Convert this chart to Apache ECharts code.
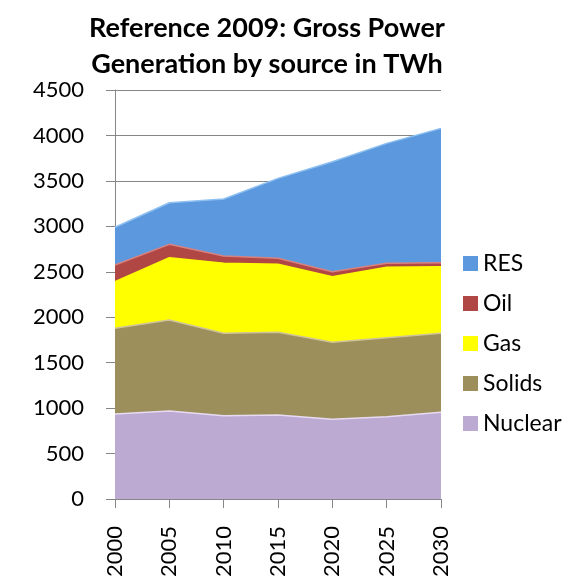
<!DOCTYPE html>
<html>
<head>
<meta charset="utf-8">
<script src="https://cdn.jsdelivr.net/npm/echarts@6/dist/echarts.min.js"></script>
<style>
  html, body { margin: 0; padding: 0; background: #fff; }
  #chart { width: 586px; height: 581px; }
</style>
</head>
<body>
<div id="chart"></div>
<script>
// years on the x axis
const years = ['2000', '2005', '2010', '2015', '2020', '2025', '2030']

// gross generation by source, TWh (stacked bottom to top)
const nuclear = [935, 968, 916, 924, 877, 905, 954]
const solids = [943, 1001, 907, 910, 847, 870, 869]
const gas = [513, 686, 770, 748, 722, 774, 732]
const oil = [183, 147, 80, 66, 54, 44, 45]
const res = [416, 458, 627, 880, 1211, 1320, 1478]

const fontFamily = 'Lato, "Open Sans", sans-serif'

const makeSeries = (name, data, fill, edge) => ({
  name,
  type: 'line',
  stack: 'total',
  data,
  symbol: 'none',
  lineStyle: { width: 1.5, color: edge },
  itemStyle: { color: fill },
  areaStyle: { color: fill, opacity: 1 }
})

const chart = echarts.init(document.getElementById('chart'), null, { renderer: 'canvas' })

chart.setOption({
  backgroundColor: '#fff',
  animation: false,
  title: {
    text: 'Reference 2009: Gross Power\nGeneration by source in TWh',
    left: 262,
    top: 5,
    textAlign: 'center',
    textStyle: {
      fontFamily,
      fontSize: 27,
      fontWeight: 'bold',
      color: '#000',
      lineHeight: 36
    }
  },
  legend: {
    orient: 'vertical',
    left: 458,
    top: 247,
    itemWidth: 15,
    itemHeight: 15,
    itemGap: 17,
    icon: 'rect',
    data: ['RES', 'Oil', 'Gas', 'Solids', 'Nuclear'],
    textStyle: { fontFamily, fontSize: 23, color: '#000', padding: [0, 0, 0, 0] }
  },
  grid: {
    left: 115,
    right: 145,
    top: 90,
    bottom: 82,
    containLabel: false
  },
  xAxis: {
    type: 'category',
    boundaryGap: false,
    data: years,
    axisLine: { lineStyle: { color: '#868686', width: 1 } },
    axisTick: { show: true, alignWithLabel: true, length: 9, lineStyle: { color: '#868686' } },
    axisLabel: {
      rotate: 90,
      margin: 27,
      fontFamily,
      fontSize: 22,
      color: '#000'
    },
    splitLine: { show: false }
  },
  yAxis: {
    type: 'value',
    min: 0,
    max: 4500,
    interval: 500,
    axisLine: { show: true, lineStyle: { color: '#868686', width: 1 } },
    axisTick: { show: true, length: 9, inside: false, lineStyle: { color: '#868686' } },
    axisLabel: {
      margin: 31,
      fontFamily,
      fontSize: 22,
      color: '#000',
      formatter: (v) => String(v)
    },
    splitLine: { show: true, lineStyle: { color: '#868686', width: 1 } }
  },
  series: [
    makeSeries('Nuclear', nuclear, '#bcaad3', '#e6dbf2'),
    makeSeries('Solids', solids, '#9d8f5b', '#cfc39a'),
    makeSeries('Gas', gas, '#ffff00', '#ffff00'),
    makeSeries('Oil', oil, '#b14744', '#d8827f'),
    makeSeries('RES', res, '#5b98dd', '#8ec0f2')
  ]
})
</script>
</body>
</html>
